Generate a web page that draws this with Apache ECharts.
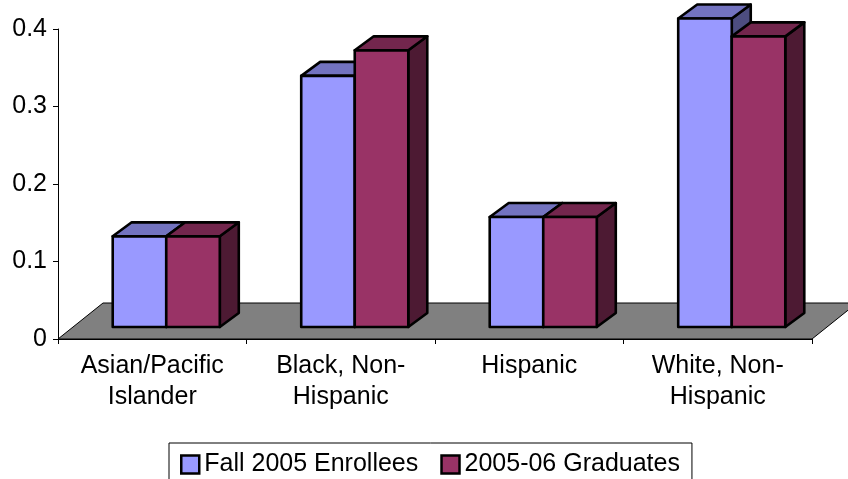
<!DOCTYPE html>
<html>
<head>
<meta charset="utf-8">
<script src="https://cdn.jsdelivr.net/npm/echarts@6/dist/echarts.min.js"></script>
<style>
  html, body {margin:0; padding:0; background:#fff;}
  #chart {width:848px; height:479px;}
</style>
</head>
<body>
<div id="chart"></div>
<script>
// data
const categories = ['Asian/Pacific\nIslander', 'Black, Non-\nHispanic', 'Hispanic', 'White, Non-\nHispanic']
const enrollees = [0.117, 0.324, 0.142, 0.398]
const graduates = [0.117, 0.357, 0.142, 0.375]
const seriesNames = ['Fall 2005 Enrollees', '2005-06 Graduates']
const yMin = 0, yMax = 0.4, yStep = 0.1

// 3d look
const FLOOR_DX = 45, FLOOR_DY = -36   // depth of the floor
const FRONT_DX = 14, FRONT_DY = -12   // bars front plane
const BAR_DX = 19, BAR_DY = -14       // bar depth
const FONT = 'Liberation Sans'

let palette = [
  {front: '#9999ff', top: '#7373c0', side: '#4d4d80'},
  {front: '#993366', top: '#73264d', side: '#4d1a33'}
]

function floorItem(params, api){
  let c = params.coordSys
  let x0 = c.x, x1 = c.x + c.width, y = c.y + c.height
  return {
    type: 'polygon',
    shape: {points: [[x0, y], [x1, y], [x1 + FLOOR_DX, y + FLOOR_DY], [x0 + FLOOR_DX, y + FLOOR_DY]]},
    style: {fill: '#808080', stroke: '#000', lineWidth: 1}
  }
}

function barItem(side){
  let col = palette[side]
  return function(params, api){
    let idx = api.value(0), val = api.value(1)
    let base = api.coord([idx, 0])
    let top = api.coord([idx, val])
    let w = api.size([1, 0])[0] * 0.284
    let x0 = base[0] + FRONT_DX + (side === 0 ? -w : 0)
    let x1 = x0 + w
    let yb = base[1] + FRONT_DY
    let yt = top[1] + FRONT_DY
    let st = {stroke: '#000', lineWidth: 2.6, lineJoin: 'round'}
    return {
      type: 'group',
      children: [
        {type: 'polygon', shape: {points: [[x1, yb], [x1 + BAR_DX, yb + BAR_DY], [x1 + BAR_DX, yt + BAR_DY], [x1, yt]]},
          style: Object.assign({fill: col.side}, st)},
        {type: 'polygon', shape: {points: [[x0, yt], [x1, yt], [x1 + BAR_DX, yt + BAR_DY], [x0 + BAR_DX, yt + BAR_DY]]},
          style: Object.assign({fill: col.top}, st)},
        {type: 'polygon', shape: {points: [[x0, yb], [x1, yb], [x1, yt], [x0, yt]]},
          style: Object.assign({fill: col.front}, st)}
      ]
    }
  }
}

let myChart = echarts.init(document.getElementById('chart'), null, {renderer: 'canvas'})
myChart.setOption({
  backgroundColor: '#fff',
  animation: false,
  textStyle: {fontFamily: FONT},
  grid: {left: 58, right: 36, top: 29, bottom: 140},
  legend: {
    data: seriesNames,
    left: 169, top: 443,
    padding: [9, 12, 9, 11],
    itemGap: 22,
    itemWidth: 18, itemHeight: 18,
    icon: 'rect',
    borderColor: '#000', borderWidth: 1,
    itemStyle: {borderColor: '#000', borderWidth: 2.5},
    textStyle: {fontFamily: FONT, fontSize: 25, color: '#000'}
  },
  xAxis: {
    type: 'category',
    data: categories,
    boundaryGap: true,
    axisLine: {lineStyle: {color: '#000', width: 1}},
    axisTick: {show: true, length: 5, lineStyle: {color: '#000'}},
    axisLabel: {color: '#000', fontSize: 25, lineHeight: 31, margin: 12, fontFamily: FONT, interval: 0}
  },
  yAxis: {
    type: 'value',
    min: yMin, max: yMax, interval: yStep,
    splitLine: {show: false},
    axisLine: {show: true, lineStyle: {color: '#000', width: 1}},
    axisTick: {show: true, length: 5, lineStyle: {color: '#000'}},
    axisLabel: {color: '#000', fontSize: 25, margin: 11, fontFamily: FONT}
  },
  series: [
    {
      type: 'custom', name: 'floor', z: 1, silent: true,
      renderItem: floorItem,
      data: [[0, 0]]
    },
    {
      type: 'custom', name: seriesNames[0], z: 2,
      itemStyle: {color: palette[0].front, borderColor: '#000', borderWidth: 2},
      renderItem: barItem(0),
      encode: {x: 0, y: 1},
      data: enrollees.map((v, i) => [i, v])
    },
    {
      type: 'custom', name: seriesNames[1], z: 3,
      itemStyle: {color: palette[1].front, borderColor: '#000', borderWidth: 2},
      renderItem: barItem(1),
      encode: {x: 0, y: 1},
      data: graduates.map((v, i) => [i, v])
    }
  ]
})
window.onresize = myChart.resize
</script>
</body>
</html>
